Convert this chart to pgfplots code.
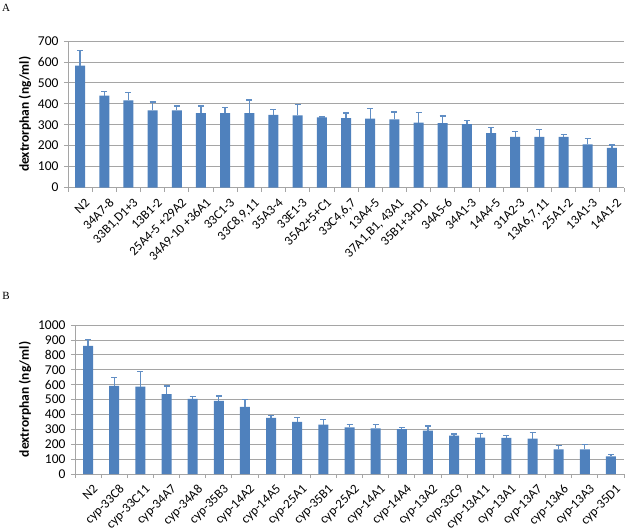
\documentclass[border=0pt]{standalone}
\usepackage{pgfplots}
\pgfplotsset{compat=1.18}
\usepackage{fontspec}
\setmainfont{Carlito}
\newfontfamily\panelfont{Liberation Serif}
\definecolor{barblue}{RGB}{79,129,189}
\definecolor{gridgray}{RGB}{165,165,165}

\pgfplotsset{
  xlbars/.style={
    scale only axis,
    axis x line*=bottom,
    axis y line*=left,
    axis line style={gridgray, line width=0.8bp},
    ymajorgrids,
    grid style={gridgray, line width=0.8bp},
    ymin=0,
    tick align=outside,
    major tick length=4bp,
    minor tick length=4bp,
    tick style={gridgray, line width=0.8bp},
    major x tick style={draw=none},
    xticklabel style={rotate=45, anchor=north east, inner sep=1bp,
      font=\fontsize{13bp}{13bp}\selectfont, yshift=-6bp, xshift=0bp},
    yticklabel style={font=\fontsize{13.5bp}{13.5bp}\selectfont, xshift=-2bp},
    /pgf/number format/assume math mode=true,
    /pgf/number format/1000 sep={},
    ylabel={dextrorphan (ng/ml)},
    ylabel style={font=\bfseries\fontsize{13.5bp}{13.5bp}\selectfont,
      anchor=center},
    bar width=10bp,
    error bars/y dir=plus,
    error bars/y explicit,
    error bars/error bar style={barblue!90!white, line width=1.3bp},
    error bars/error mark options={rotate=90, mark size=3bp, line width=1.3bp, barblue!90!white},
  }
}

\begin{document}
\begin{tikzpicture}
\useasboundingbox (0bp,0bp) rectangle (625bp,-531bp);

\node[font=\panelfont\fontsize{11bp}{11bp}\selectfont, anchor=center] at (6bp,-8bp) {A};
\node[font=\panelfont\fontsize{11bp}{11bp}\selectfont, anchor=center] at (6bp,-296bp) {B};

% panel A
\begin{axis}[xlbars,
  at={(68bp,-187.5bp)}, anchor=south west,
  width=556bp, height=146.5bp,
  xmin=-0.5, xmax=22.5,
  ymax=700, ytick={0,100,...,700},
  xtick={0,...,22},
  minor xtick={-0.5,0.5,...,22.5},
  xticklabels={N2,{34A7-8},{33B1,D1+3},{13B1-2},{25A4-5 +29A2},{34A9-10 +36A1},
    {33C1-3},{33C8,9,11},{35A3-4},{33E1-3},{35A2+5+C1},{33C4,6,7},{13A4-5},
    {37A1,B1, 43A1},{35B1+3+D1},{34A5-6},{34A1-3},{14A4-5},{31A2-3},
    {13A6,7,11},{25A1-2},{13A1-3},{14A1-2}},
  ylabel style={at={(axis description cs:-0.0773,0.5)}},
]
\addplot[ybar, fill=barblue, draw=none] table[x=i, y=v, y error=e] {
i v e
0 582 71
1 439 19
2 416 37
3 369 39
4 369 20
5 355 34
6 355 26
7 355 63
8 347 26
9 345 51
10 335 2
11 332 24
12 329 48
13 326 35
14 310 48
15 308 34
16 303 16
17 260 27
18 242 26
19 242 34
20 242 10
21 206 29
22 189 14
};
\end{axis}

% panel B
\begin{axis}[xlbars,
  at={(75bp,-474bp)}, anchor=south west,
  width=549bp, height=149bp,
  xmin=-0.5, xmax=20.5,
  ymax=1000, ytick={0,100,...,1000},
  xtick={0,...,20},
  minor xtick={-0.5,0.5,...,20.5},
  xticklabels={N2,cyp-33C8,cyp-33C11,cyp-34A7,cyp-34A8,cyp-35B3,cyp-14A2,
    cyp-14A5,cyp-25A1,cyp-35B1,cyp-25A2,cyp-14A1,cyp-14A4,cyp-13A2,cyp-33C9,
    cyp-13A11,cyp-13A1,cyp-13A7,cyp-13A6,cyp-13A3,cyp-35D1},
  ylabel style={at={(axis description cs:-0.091,0.5)}},
]
\addplot[ybar, fill=barblue, draw=none] table[x=i, y=v, y error=e] {
i v e
0 860 42
1 591 55
2 587 102
3 536 55
4 504 14
5 491 33
6 451 47
7 377 17
8 350 29
9 331 33
10 313 18
11 307 24
12 302 11
13 291 31
14 258 11
15 244 27
16 242 16
17 237 41
18 166 25
19 166 31
20 119 11
};
\end{axis}
\end{tikzpicture}
\end{document}
